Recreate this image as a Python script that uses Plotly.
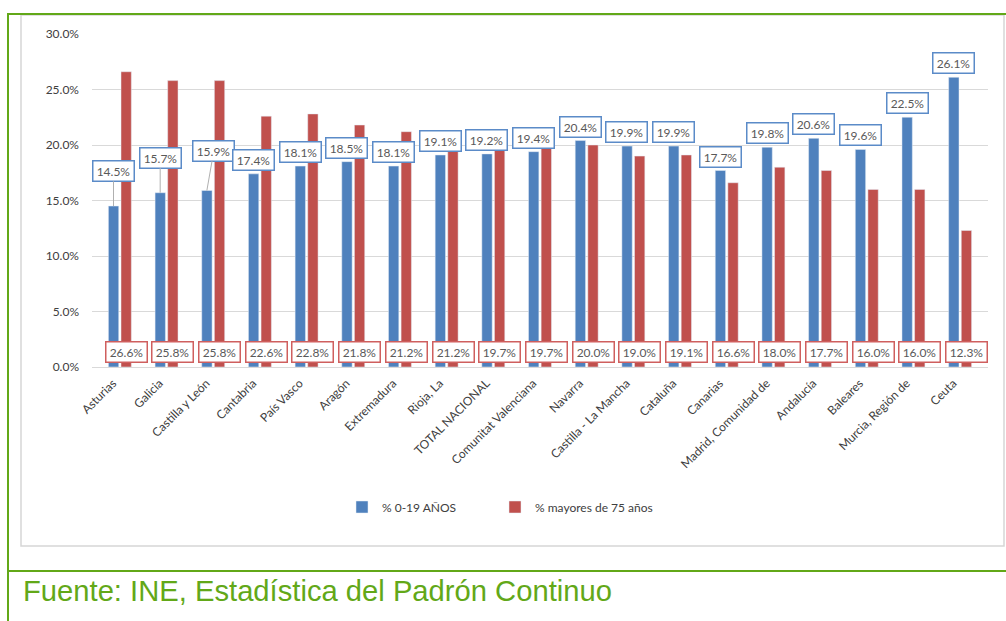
import plotly.graph_objects as go

categories = ['Asturias', 'Galicia', 'Castilla y León', 'Cantabria', 'País Vasco', 'Aragón',
              'Extremadura', 'Rioja, La', 'TOTAL NACIONAL', 'Comunitat Valenciana', 'Navarra',
              'Castilla - La Mancha', 'Cataluña', 'Canarias', 'Madrid, Comunidad de',
              'Andalucía', 'Baleares', 'Murcia, Región de', 'Ceuta']
pct_0_19 = [14.5, 15.7, 15.9, 17.4, 18.1, 18.5, 18.1, 19.1, 19.2, 19.4, 20.4, 19.9, 19.9,
            17.7, 19.8, 20.6, 19.6, 22.5, 26.1]
pct_75 = [26.6, 25.8, 25.8, 22.6, 22.8, 21.8, 21.2, 21.2, 19.7, 19.7, 20.0, 19.0, 19.1,
          16.6, 18.0, 17.7, 16.0, 16.0, 12.3]
series_names = ['% 0-19 AÑOS', '% mayores de 75 años']
y_ticks = [0, 5, 10, 15, 20, 25, 30]
y_tick_labels = ['0.0%', '5.0%', '10.0%', '15.0%', '20.0%', '25.0%', '30.0%']
source_text = 'Fuente: INE, Estadística del Padrón Continuo'

# style
W, H = 1006, 621
ML, MR, MT, MB = 92, 18, 34, 254
BLUE, RED = '#4f81bd', '#c0504d'
BLUE_BOX, RED_BOX = '#5b8bc8', '#cf5f5e'
GREEN = '#62a818'
FONT = 'Lato, Noto Sans, sans-serif'
BARGAP = 0.46
# labels that sit higher with a leader line: category index -> (ax, ay) in px
leader = {0: (0, -35), 1: (0, -35), 2: (7, -40)}

pw, ph = W - ML - MR, H - MT - MB
def px(x):
    return (x - ML) / pw
def py(y):
    return (H - MB - y) / ph

fig = go.Figure()
fig.add_trace(go.Bar(x=categories, y=pct_0_19, name=series_names[0], marker_color=BLUE,
                     legend='legend', showlegend=True))
fig.add_trace(go.Bar(x=categories, y=pct_75, name=series_names[1], marker_color=RED,
                     legend='legend2', showlegend=True))

slot_px = (1 - BARGAP) * pw / len(categories) / 2
off = slot_px / 2

annotations = []
for i, (c, v) in enumerate(zip(categories, pct_0_19)):
    common = dict(x=c, y=v, xref='x', yref='y', text=f'{v:.1f}%',
                  font=dict(family=FONT, size=12, color='#595959'),
                  bgcolor='white', bordercolor=BLUE_BOX, borderwidth=1.5,
                  borderpad=2, width=36, height=15)
    if i in leader:
        ax, ay = leader[i]
        annotations.append(dict(common, showarrow=True, arrowhead=0, arrowwidth=1,
                                arrowcolor='#b0b0b0', ax=ax, ay=ay, xshift=-off))
    else:
        annotations.append(dict(common, showarrow=False, yanchor='bottom', yshift=3, xshift=-off))
for c, v in zip(categories, pct_75):
    annotations.append(dict(x=c, y=0, xref='x', yref='y', text=f'{v:.1f}%', showarrow=False,
                            font=dict(family=FONT, size=12, color='#595959'),
                            bgcolor='white', bordercolor=RED_BOX, borderwidth=1.5,
                            borderpad=2, width=36, height=15,
                            yanchor='bottom', yshift=4, xshift=off))
annotations.append(dict(text=source_text, xref='paper', yref='paper', x=px(21), y=py(591),
                        xanchor='left', yanchor='middle', showarrow=False,
                        font=dict(family='Liberation Sans, Arial, sans-serif', size=29.2, color=GREEN)))

shapes = [
    dict(type='rect', xref='paper', yref='paper', x0=px(21), x1=px(1004), y0=py(546), y1=py(15),
         line=dict(color='#d6d6d6', width=1.5), layer='below'),
    dict(type='line', xref='paper', yref='paper', x0=px(8), x1=px(8), y0=py(13), y1=py(621),
         line=dict(color=GREEN, width=2)),
    dict(type='line', xref='paper', yref='paper', x0=px(7), x1=px(1006), y0=py(14), y1=py(14),
         line=dict(color=GREEN, width=2)),
    dict(type='line', xref='paper', yref='paper', x0=px(7), x1=px(1006), y0=py(571), y1=py(571),
         line=dict(color=GREEN, width=2)),
]

legend_style = dict(orientation='h', y=py(507), xanchor='left', yanchor='middle',
                    font=dict(family=FONT, size=12, color='#404040'),
                    itemwidth=30, bgcolor='rgba(0,0,0,0)')

fig.update_layout(
    width=W, height=H,
    margin=dict(l=ML, r=MR, t=MT, b=MB),
    paper_bgcolor='white', plot_bgcolor='white',
    showlegend=True,
    barmode='group', bargap=BARGAP, bargroupgap=0.18,
    font=dict(family=FONT, size=12, color='#404040'),
    annotations=annotations, shapes=shapes,
    legend=dict(legend_style, x=px(342)),
    legend2=dict(legend_style, x=px(495)),
    xaxis=dict(type='category', tickangle=-45, showgrid=False, showline=False, ticks='',
               ticklabelstandoff=6, ticklabelshift=-7,
               tickfont=dict(family=FONT, size=12, color='#404040')),
    yaxis=dict(range=[0, 30], tickvals=y_ticks, ticktext=y_tick_labels,
               showgrid=True, gridcolor='#d9d9d9', gridwidth=1, zeroline=True,
               zerolinecolor='#d9d9d9', zerolinewidth=1, showline=False, ticks='',
               ticklabelstandoff=12, tickfont=dict(family=FONT, size=12, color='#404040')),
)

fig.write_html('out.html', config={'displayModeBar': False},
               post_script="document.body.style.margin='0';document.body.style.overflow='hidden';")
